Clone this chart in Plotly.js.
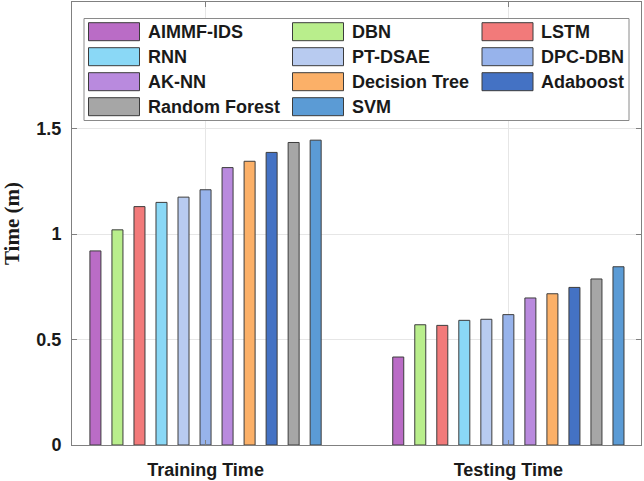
<!DOCTYPE html>
<html>
<head>
<meta charset="utf-8">
<script src="https://cdn.plot.ly/plotly-3.0.1.min.js"></script>
<style>
  html, body { margin: 0; padding: 0; background: #fff; }
  #plot { width: 644px; height: 481px; }
</style>
</head>
<body>
<div id="plot"></div>
<script>
// data
const groups = ["Training Time", "Testing Time"];
const models = ["AIMMF-IDS", "DBN", "LSTM", "RNN", "PT-DSAE", "DPC-DBN",
                "AK-NN", "Decision Tree", "Adaboost", "Random Forest", "SVM"];
const trainTime = [0.92, 1.02, 1.13, 1.15, 1.175, 1.21, 1.315, 1.345, 1.387, 1.434, 1.445];
const testTime  = [0.417, 0.57, 0.567, 0.591, 0.596, 0.618, 0.697, 0.717, 0.747, 0.787, 0.845];
const colors = ["#BA6CC6", "#B9EE8C", "#F27A7A", "#8AD8F6", "#B8CBF0", "#97B3EB",
                "#B98ADE", "#FBB068", "#4472C4", "#A6A6A6", "#5B9BD5"];
const yTicks = [0, 0.5, 1, 1.5];

// サイズ
const W = 644, H = 481;
const mar = { l: 72, r: 3, t: 2, b: 36 };
const pw = W - mar.l - mar.r, ph = H - mar.t - mar.b;
// ピクセル -> paper座標
const px = x => (x - mar.l) / pw;
const py = y => (H - mar.b - y) / ph;

const sansBold = { family: "Arial, 'Liberation Sans', sans-serif", size: 18, color: "#1a1a1a", weight: "bold" };

// バー
const data = models.map((m, i) => ({
  type: "bar",
  name: m,
  x: groups,
  y: [trainTime[i], testTime[i]],
  marker: { color: colors[i], line: { color: "#3c3c3c", width: 1 } },
  showlegend: false,
  hoverinfo: "skip"
}));

// 凡例（手描き）
const shapes = [{
  type: "rect", xref: "paper", yref: "paper", layer: "above",
  x0: px(84), x1: px(629), y0: py(120.5), y1: py(18.5),
  fillcolor: "#ffffff", line: { color: "#8a8a8a", width: 1 }
}];
const annotations = [];
const colX = [88.5, 292.5, 482];
const rowY = [31.7, 56.7, 81.7, 106.7];
models.forEach((m, i) => {
  const c = i % 3, r = Math.floor(i / 3);
  shapes.push({
    type: "rect", xref: "paper", yref: "paper", layer: "above",
    x0: px(colX[c]), x1: px(colX[c] + 51),
    y0: py(rowY[r] + 9), y1: py(rowY[r] - 9),
    fillcolor: colors[i], line: { color: "#3c3c3c", width: 1 }
  });
  annotations.push({
    xref: "paper", yref: "paper", x: px(colX[c] + 57), y: py(rowY[r]),
    xanchor: "left", yanchor: "middle", showarrow: false,
    text: m, font: sansBold
  });
});

const layout = {
  width: W, height: H,
  margin: mar,
  paper_bgcolor: "#ffffff",
  plot_bgcolor: "#ffffff",
  barmode: "group",
  bargap: 0.2,
  bargroupgap: 0.5,
  showlegend: false,
  xaxis: {
    type: "category",
    range: [-0.441, 1.438],
    showgrid: true, gridcolor: "#e6e6e6",
    showline: true, linecolor: "#808080", linewidth: 1, mirror: "ticks",
    ticks: "inside", ticklen: 5, tickcolor: "#808080",
    tickfont: sansBold,
    ticklabelstandoff: 8,
    zeroline: false
  },
  yaxis: {
    range: [0, 2.1],
    tickvals: yTicks,
    showgrid: true, gridcolor: "#e6e6e6",
    showline: true, linecolor: "#808080", linewidth: 1, mirror: "ticks",
    ticks: "inside", ticklen: 5, tickcolor: "#808080",
    tickfont: sansBold,
    ticklabelstandoff: 6,
    zeroline: false,
    title: {
      text: "Time (m)",
      font: { family: "'Times New Roman', 'Liberation Serif', serif", size: 21, color: "#1a1a1a", weight: "bold" },
      standoff: 12
    }
  },
  shapes: shapes,
  annotations: annotations
};

Plotly.newPlot("plot", data, layout, { staticPlot: true, displayModeBar: false });
</script>
</body>
</html>
